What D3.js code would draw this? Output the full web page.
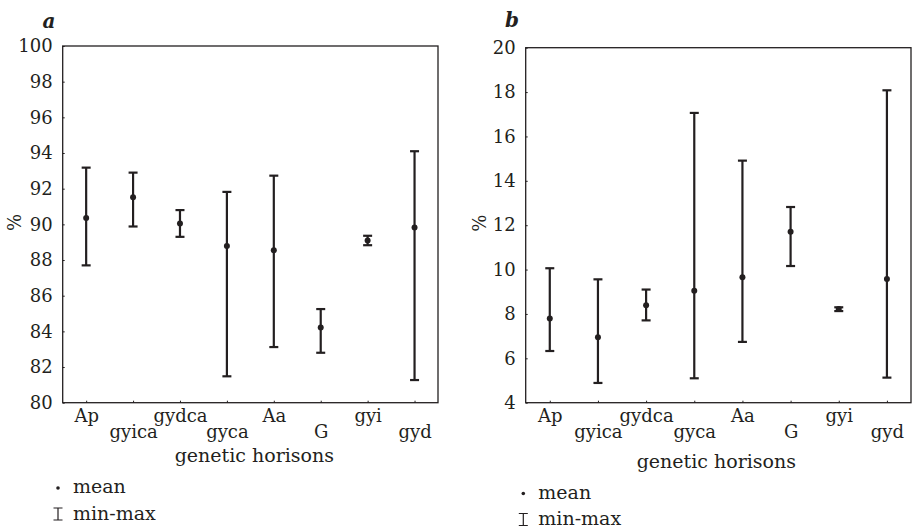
<!DOCTYPE html>
<html>
<head>
<meta charset="utf-8">
<script src="https://cdn.jsdelivr.net/npm/d3@7"></script>
<style>
  body { margin: 0; background: #fff; }
  svg text { font-family: "DejaVu Serif", serif; fill: #231f20; }
</style>
</head>
<body>
<div id="chart"></div>
<script>
// genetic horisons (same for both panels)
const categories = ["Ap", "gyica", "gydca", "gyca", "Aa", "G", "gyi", "gyd"];

// panel a
const meanA = [90.36, 91.52, 90.05, 88.78, 88.55, 84.22, 89.1, 89.82];
const minA  = [87.7, 89.88, 89.3, 81.48, 83.12, 82.8, 88.83, 81.27];
const maxA  = [93.18, 92.9, 90.8, 91.82, 92.73, 85.25, 89.36, 94.1];
const ticksA = [80, 82, 84, 86, 88, 90, 92, 94, 96, 98, 100];

// panel b
const meanB = [7.79, 6.95, 8.39, 9.05, 9.65, 11.71, 8.22, 9.58];
const minB  = [6.33, 4.89, 7.71, 5.1, 6.74, 10.16, 8.13, 5.13];
const maxB  = [10.06, 9.56, 9.1, 17.06, 14.91, 12.82, 8.3, 18.08];
const ticksB = [4, 6, 8, 10, 12, 14, 16, 18, 20];

const W = 913, H = 528;
const ink = "#231f20";

const svg = d3.select("#chart").append("svg")
    .attr("width", W)
    .attr("height", H);

function drawPanel(p) {
  const x = d3.scalePoint().domain(categories)
      .range([p.left, p.right]).padding(0.5);
  const y = d3.scaleLinear().domain(d3.extent(p.ticks))
      .range([p.bottom, p.top]);

  const g = svg.append("g");

  // frame
  g.append("rect")
      .attr("x", p.left).attr("y", p.top)
      .attr("width", p.right - p.left).attr("height", p.bottom - p.top)
      .attr("fill", "none").attr("stroke", ink).attr("stroke-width", 1.3);

  // y axis
  const ya = g.append("g")
      .attr("transform", `translate(${p.left},0)`)
      .call(d3.axisLeft(y).tickValues(p.ticks).tickSizeInner(-2).tickSizeOuter(0).tickPadding(10));
  ya.select(".domain").remove();
  ya.selectAll("line").attr("stroke", ink);
  ya.selectAll("text").attr("font-size", 18).attr("fill", ink);

  // x axis, labels staggered on two rows
  const xa = g.append("g")
      .attr("transform", `translate(0,${p.bottom})`)
      .call(d3.axisBottom(x).tickSizeInner(-2).tickSizeOuter(0));
  xa.select(".domain").remove();
  xa.selectAll("line").attr("stroke", ink);
  xa.selectAll("text")
      .attr("font-size", 18).attr("fill", ink)
      .attr("dy", 0)
      .attr("y", (d, i) => i % 2 === 0 ? 19.5 : 35);

  // axis titles
  g.append("text")
      .attr("x", (p.left + p.right) / 2 + p.titleShift)
      .attr("y", p.titleY)
      .attr("text-anchor", "middle")
      .attr("font-size", 19)
      .text("genetic horisons");

  g.append("text")
      .attr("transform", `translate(${p.pctX},${(p.top + p.bottom) / 2 - 2}) rotate(-90)`)
      .attr("text-anchor", "middle")
      .attr("dy", "0.35em")
      .attr("font-size", 18)
      .text("%");

  // panel letter
  g.append("text")
      .attr("x", p.letterX).attr("y", p.letterY)
      .attr("font-size", 20)
      .attr("font-weight", "bold")
      .attr("font-style", "italic")
      .text(p.letter);

  // min-max bars
  const rows = categories.map((c, i) => ({ c, mean: p.mean[i], min: p.min[i], max: p.max[i] }));
  const cap = 4.5;
  const bars = g.append("g").attr("stroke", ink).attr("stroke-width", 2.2);
  bars.selectAll("line.v").data(rows).join("line")
      .attr("class", "v")
      .attr("x1", d => x(d.c)).attr("x2", d => x(d.c))
      .attr("y1", d => y(d.min)).attr("y2", d => y(d.max));
  bars.selectAll("line.hi").data(rows).join("line")
      .attr("class", "hi")
      .attr("x1", d => x(d.c) - cap).attr("x2", d => x(d.c) + cap)
      .attr("y1", d => y(d.max)).attr("y2", d => y(d.max));
  bars.selectAll("line.lo").data(rows).join("line")
      .attr("class", "lo")
      .attr("x1", d => x(d.c) - cap).attr("x2", d => x(d.c) + cap)
      .attr("y1", d => y(d.min)).attr("y2", d => y(d.min));

  // means
  g.selectAll("circle.mean").data(rows).join("circle")
      .attr("class", "mean")
      .attr("cx", d => x(d.c)).attr("cy", d => y(d.mean))
      .attr("r", 3).attr("fill", ink);

  // legend
  const lg = g.append("g").attr("transform", `translate(${p.legX},${p.legY})`);
  lg.append("circle").attr("cx", 0).attr("cy", 0).attr("r", 1.8).attr("fill", ink);
  lg.append("text").attr("x", 15).attr("y", 5).attr("font-size", 19).text("mean");
  lg.append("path")
      .attr("d", "M0,20V32M-4.5,20H4.5M-4.5,32H4.5")
      .attr("fill", "none").attr("stroke", ink).attr("stroke-width", 1.2);
  lg.append("text").attr("x", 15).attr("y", 31.5).attr("font-size", 19).text("min-max");
}

drawPanel({
  letter: "a", letterX: 42.5, letterY: 28,
  left: 62.7, right: 438, top: 46, bottom: 402.7,
  ticks: ticksA, mean: meanA, min: minA, max: maxA,
  titleShift: 4, titleY: 461.5, pctX: 15,
  legX: 58, legY: 488
});

drawPanel({
  letter: "b", letterX: 505, letterY: 27,
  left: 525.7, right: 911, top: 47.7, bottom: 402.7,
  ticks: ticksB, mean: meanB, min: minB, max: maxB,
  titleShift: -2, titleY: 468, pctX: 480,
  legX: 523.3, legY: 493.5
});
</script>
</body>
</html>
